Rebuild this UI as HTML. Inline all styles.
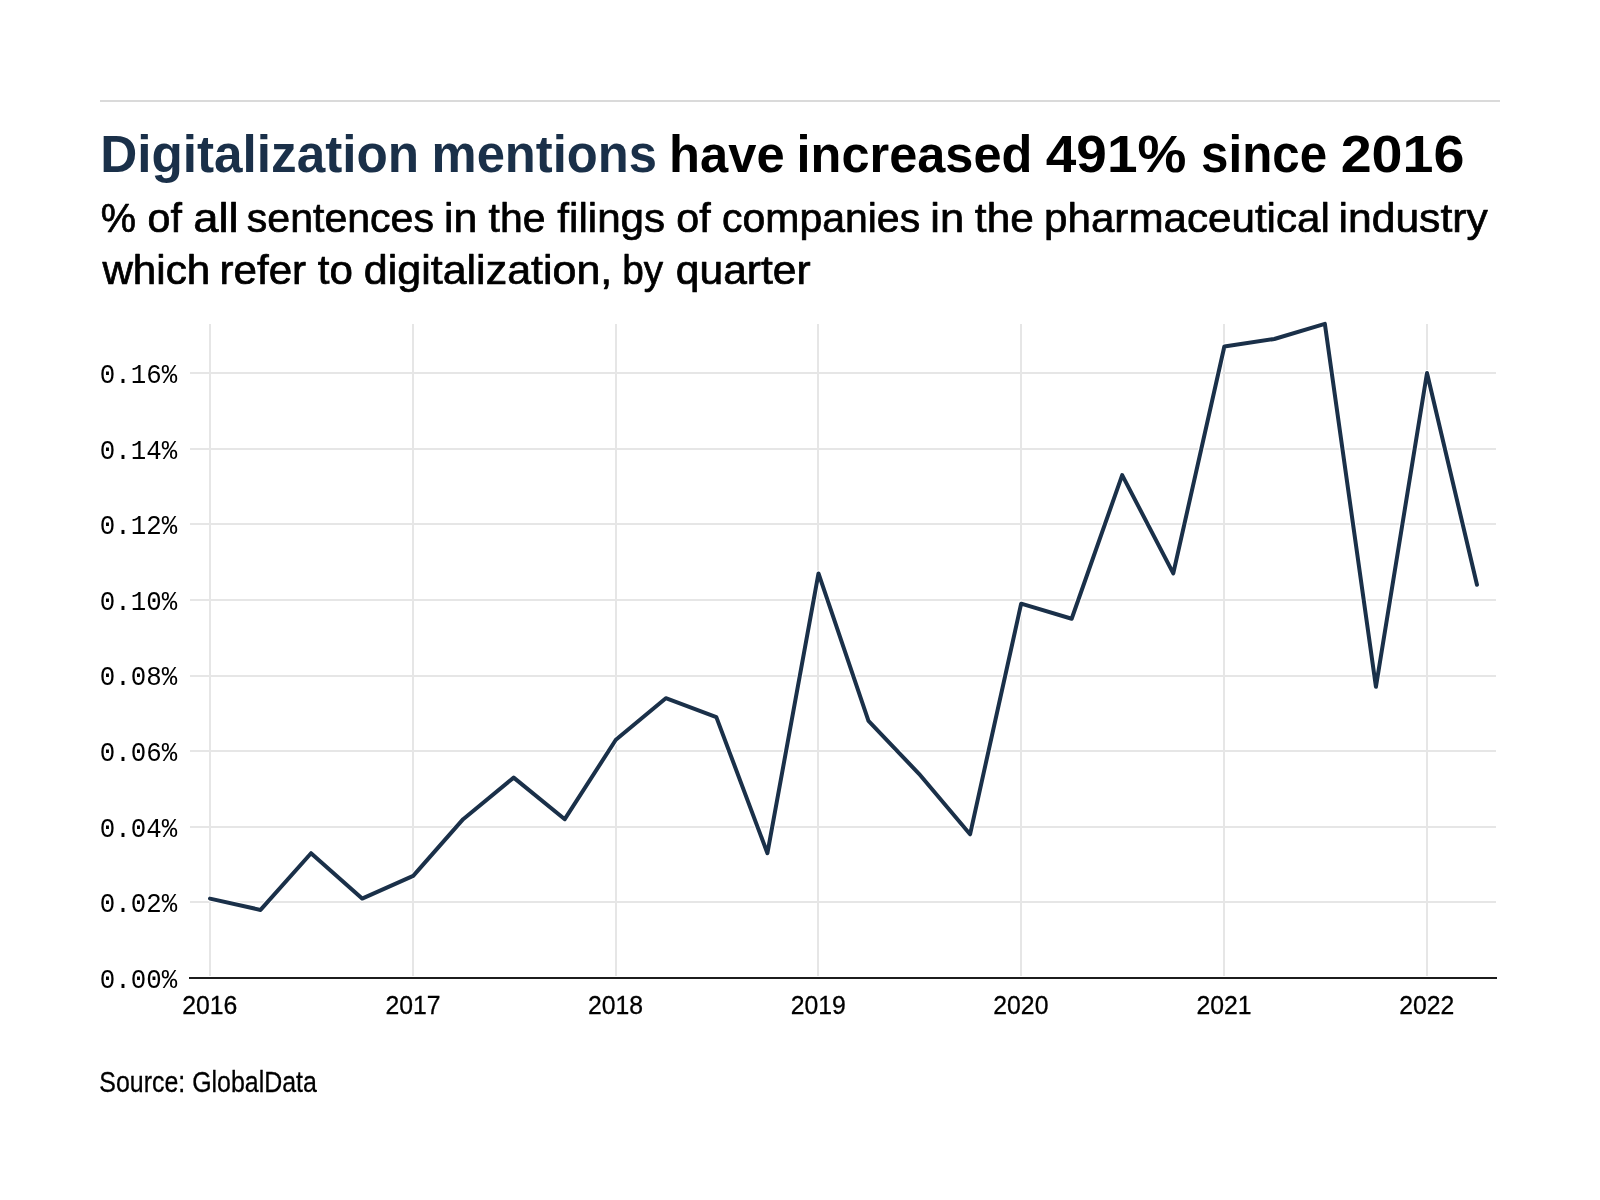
<!DOCTYPE html>
<html lang="en">
<head>
<meta charset="utf-8">
<title>Digitalization mentions have increased 491% since 2016</title>
<style>
html,body{margin:0;padding:0;background:#fff;}
body{width:1600px;height:1200px;overflow:hidden;}
svg{display:block;}
text{font-family:"Liberation Sans", sans-serif;white-space:pre;}
.mono{font-family:"Liberation Mono", monospace;}
</style>
</head>
<body>
<svg style="will-change:transform" width="1600" height="1200" viewBox="0 0 1600 1200">
<rect x="0" y="0" width="1600" height="1200" fill="#ffffff"/>
<rect x="100" y="100" width="1400" height="2" fill="#dadada"/>
<g fill="#e6e6e6">
<rect x="190" y="901" width="1306" height="2"/>
<rect x="190" y="826" width="1306" height="2"/>
<rect x="190" y="750" width="1306" height="2"/>
<rect x="190" y="675" width="1306" height="2"/>
<rect x="190" y="599" width="1306" height="2"/>
<rect x="190" y="523" width="1306" height="2"/>
<rect x="190" y="448" width="1306" height="2"/>
<rect x="190" y="372" width="1306" height="2"/>
<rect x="209" y="324" width="2" height="652"/>
<rect x="412" y="324" width="2" height="652"/>
<rect x="615" y="324" width="2" height="652"/>
<rect x="817" y="324" width="2" height="652"/>
<rect x="1020" y="324" width="2" height="652"/>
<rect x="1223" y="324" width="2" height="652"/>
<rect x="1426" y="324" width="2" height="652"/>
</g>
<rect x="189" y="977" width="1308" height="2" fill="#1c1c1c"/>
<polyline points="210.00,898.59 260.52,909.94 311.05,853.22 362.12,898.59 413.20,875.91 463.17,819.19 513.69,777.59 564.77,819.19 615.85,739.78 665.82,698.19 716.34,717.09 767.42,853.22 818.50,573.41 868.47,720.88 918.99,773.81 970.07,834.31 1021.15,603.66 1071.67,618.78 1122.19,475.09 1173.27,573.41 1224.35,346.53 1274.32,338.97 1324.84,323.84 1375.92,686.84 1427.00,373.00 1476.97,584.75" fill="none" stroke="#ffffff" stroke-width="6" stroke-linejoin="round" stroke-linecap="round"/>
<polyline points="210.00,898.59 260.52,909.94 311.05,853.22 362.12,898.59 413.20,875.91 463.17,819.19 513.69,777.59 564.77,819.19 615.85,739.78 665.82,698.19 716.34,717.09 767.42,853.22 818.50,573.41 868.47,720.88 918.99,773.81 970.07,834.31 1021.15,603.66 1071.67,618.78 1122.19,475.09 1173.27,573.41 1224.35,346.53 1274.32,338.97 1324.84,323.84 1375.92,686.84 1427.00,373.00 1476.97,584.75" fill="none" stroke="#1a3049" stroke-width="4" stroke-linejoin="round" stroke-linecap="round"/>
<g id="title" aria-label="Chart title">
<text transform="translate(100.26 171.75) scale(0.9953 1)" font-size="51.5" font-weight="bold" fill="#1a3049">Digitalization </text>
<text transform="translate(431.54 171.75) scale(0.9854 1)" font-size="51.5" font-weight="bold" fill="#1a3049">mentions </text>
<text transform="translate(669.05 171.75) scale(0.9845 1)" font-size="51.5" font-weight="bold" fill="#000000">have </text>
<text transform="translate(796.56 171.75) scale(0.9808 1)" font-size="51.5" font-weight="bold" fill="#000000">increased </text>
<text transform="translate(1045.75 171.75) scale(1.0674 1)" font-size="51.5" font-weight="bold" fill="#000000">491% </text>
<text transform="translate(1201.04 171.75) scale(0.9570 1)" font-size="51.5" font-weight="bold" fill="#000000">since </text>
<text transform="translate(1340.67 171.75) scale(1.0811 1)" font-size="51.5" font-weight="bold" fill="#000000">2016 </text>
</g>
<g id="sub1" aria-label="Chart subtitle line 1">
<text transform="translate(100.86 231.75) scale(0.9798 1)" font-size="40.5" fill="#000000" stroke="#000000" stroke-width="0.7" stroke-linejoin="round">% </text>
<text transform="translate(147.59 231.75) scale(1.0154 1)" font-size="40.5" fill="#000000" stroke="#000000" stroke-width="0.7" stroke-linejoin="round">of </text>
<text transform="translate(193.27 231.75) scale(1.1185 1)" font-size="40.5" fill="#000000" stroke="#000000" stroke-width="0.7" stroke-linejoin="round">all </text>
<text transform="translate(246.84 231.75) scale(1.0133 1)" font-size="40.5" fill="#000000" stroke="#000000" stroke-width="0.7" stroke-linejoin="round">sentences </text>
<text transform="translate(444.01 231.75) scale(1.0560 1)" font-size="40.5" fill="#000000" stroke="#000000" stroke-width="0.7" stroke-linejoin="round">in </text>
<text transform="translate(488.60 231.75) scale(1.0094 1)" font-size="40.5" fill="#000000" stroke="#000000" stroke-width="0.7" stroke-linejoin="round">the </text>
<text transform="translate(557.36 231.75) scale(1.0413 1)" font-size="40.5" fill="#000000" stroke="#000000" stroke-width="0.7" stroke-linejoin="round">filings </text>
<text transform="translate(676.34 231.75) scale(1.0154 1)" font-size="40.5" fill="#000000" stroke="#000000" stroke-width="0.7" stroke-linejoin="round">of </text>
<text transform="translate(722.09 231.75) scale(1.0113 1)" font-size="40.5" fill="#000000" stroke="#000000" stroke-width="0.7" stroke-linejoin="round">companies </text>
<text transform="translate(930.23 231.75) scale(1.0741 1)" font-size="40.5" fill="#000000" stroke="#000000" stroke-width="0.7" stroke-linejoin="round">in </text>
<text transform="translate(974.87 231.75) scale(1.0455 1)" font-size="40.5" fill="#000000" stroke="#000000" stroke-width="0.7" stroke-linejoin="round">the </text>
<text transform="translate(1044.03 231.75) scale(1.0409 1)" font-size="40.5" fill="#000000" stroke="#000000" stroke-width="0.7" stroke-linejoin="round">pharmaceutical </text>
<text transform="translate(1338.51 231.75) scale(1.0530 1)" font-size="40.5" fill="#000000" stroke="#000000" stroke-width="0.7" stroke-linejoin="round">industry </text>
</g>
<g id="sub2" aria-label="Chart subtitle line 2">
<text transform="translate(102.41 283.75) scale(1.0417 1)" font-size="40.5" fill="#000000" stroke="#000000" stroke-width="0.7" stroke-linejoin="round">which </text>
<text transform="translate(219.53 283.75) scale(1.0400 1)" font-size="40.5" fill="#000000" stroke="#000000" stroke-width="0.7" stroke-linejoin="round">refer </text>
<text transform="translate(317.86 283.75) scale(1.0394 1)" font-size="40.5" fill="#000000" stroke="#000000" stroke-width="0.7" stroke-linejoin="round">to </text>
<text transform="translate(363.81 283.75) scale(1.0614 1)" font-size="40.5" fill="#000000" stroke="#000000" stroke-width="0.7" stroke-linejoin="round">digitalization, </text>
<text transform="translate(622.17 283.75) scale(0.9592 1)" font-size="40.5" fill="#000000" stroke="#000000" stroke-width="0.7" stroke-linejoin="round">by </text>
<text transform="translate(675.82 283.75) scale(1.0507 1)" font-size="40.5" fill="#000000" stroke="#000000" stroke-width="0.7" stroke-linejoin="round">quarter </text>
</g>
<g id="ylab" aria-label="Y axis labels">
<text class="mono" transform="translate(99.85 987.90) scale(0.9044 1)" font-size="28.5" fill="#000000">0.00%</text>
<text class="mono" transform="translate(99.85 912.27) scale(0.9044 1)" font-size="28.5" fill="#000000">0.02%</text>
<text class="mono" transform="translate(99.85 836.65) scale(0.9044 1)" font-size="28.5" fill="#000000">0.04%</text>
<text class="mono" transform="translate(99.85 761.02) scale(0.9044 1)" font-size="28.5" fill="#000000">0.06%</text>
<text class="mono" transform="translate(99.85 685.40) scale(0.9044 1)" font-size="28.5" fill="#000000">0.08%</text>
<text class="mono" transform="translate(99.85 609.77) scale(0.9044 1)" font-size="28.5" fill="#000000">0.10%</text>
<text class="mono" transform="translate(99.85 534.15) scale(0.9044 1)" font-size="28.5" fill="#000000">0.12%</text>
<text class="mono" transform="translate(99.85 458.52) scale(0.9044 1)" font-size="28.5" fill="#000000">0.14%</text>
<text class="mono" transform="translate(99.85 382.90) scale(0.9044 1)" font-size="28.5" fill="#000000">0.16%</text>
</g>
<g id="xlab" aria-label="X axis labels">
<text transform="translate(182.19 1014.00) scale(0.9527 1)" font-size="26" fill="#000000" stroke="#000000" stroke-width="0.3" stroke-linejoin="round">2016</text>
<text transform="translate(385.39 1014.00) scale(0.9527 1)" font-size="26" fill="#000000" stroke="#000000" stroke-width="0.3" stroke-linejoin="round">2017</text>
<text transform="translate(588.04 1014.00) scale(0.9527 1)" font-size="26" fill="#000000" stroke="#000000" stroke-width="0.3" stroke-linejoin="round">2018</text>
<text transform="translate(790.69 1014.00) scale(0.9527 1)" font-size="26" fill="#000000" stroke="#000000" stroke-width="0.3" stroke-linejoin="round">2019</text>
<text transform="translate(993.34 1014.00) scale(0.9527 1)" font-size="26" fill="#000000" stroke="#000000" stroke-width="0.3" stroke-linejoin="round">2020</text>
<text transform="translate(1196.54 1014.00) scale(0.9527 1)" font-size="26" fill="#000000" stroke="#000000" stroke-width="0.3" stroke-linejoin="round">2021</text>
<text transform="translate(1399.19 1014.00) scale(0.9527 1)" font-size="26" fill="#000000" stroke="#000000" stroke-width="0.3" stroke-linejoin="round">2022</text>
</g>
<g id="src" aria-label="Source">
<text transform="translate(99.37 1091.70) scale(0.8596 1)" font-size="29" fill="#000000" stroke="#000000" stroke-width="0.3" stroke-linejoin="round">Source: GlobalData</text>
</g>
</svg>
</body>
</html>
